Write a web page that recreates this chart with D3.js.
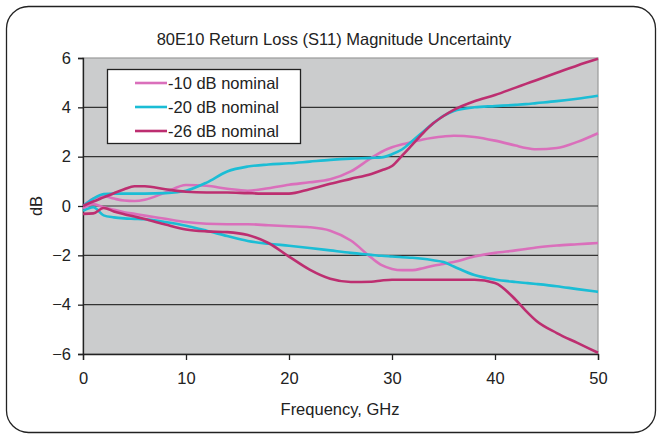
<!DOCTYPE html>
<html>
<head>
<meta charset="utf-8">
<script src="https://cdn.jsdelivr.net/npm/d3@7"></script>
<style>
  body { margin: 0; background: #fff; }
  svg text { font-family: "Liberation Sans", Arial, sans-serif; fill: #222; }
</style>
</head>
<body>
<svg id="chart" width="662" height="439"></svg>
<script>
// frequency points (GHz) shared by all curves
const freq = [0,1,2,3,4,5,6,8,10,12,14,16,18,20,22,24,26,28,29,30,31,32,33,34,35,36,38,40,42,43,44,46,48,50];

// -10 dB nominal, upper / lower bound (dB)
const tenUpper = [0,0.3,0.4,0.3,0.22,0.2,0.25,0.55,0.85,0.82,0.7,0.62,0.72,0.86,0.96,1.08,1.4,1.95,2.2,2.38,2.5,2.6,2.7,2.77,2.82,2.85,2.8,2.65,2.45,2.35,2.3,2.35,2.6,2.95];
const tenLower = [-0.1,0.08,-0.05,-0.15,-0.25,-0.32,-0.39,-0.52,-0.65,-0.72,-0.74,-0.74,-0.78,-0.82,-0.86,-1.0,-1.4,-2.1,-2.4,-2.55,-2.6,-2.6,-2.52,-2.42,-2.35,-2.27,-2.05,-1.9,-1.8,-1.74,-1.68,-1.6,-1.55,-1.5];

// -20 dB nominal
const twentyUpper = [0,0.3,0.48,0.5,0.5,0.5,0.5,0.52,0.62,0.95,1.4,1.6,1.68,1.73,1.8,1.87,1.92,1.95,1.97,2.1,2.3,2.65,3.0,3.35,3.65,3.85,4.0,4.05,4.1,4.13,4.17,4.25,4.35,4.47];
const twentyLower = [-0.2,-0.05,-0.38,-0.46,-0.5,-0.52,-0.54,-0.65,-0.8,-1.0,-1.22,-1.42,-1.53,-1.61,-1.7,-1.8,-1.9,-1.98,-2.02,-2.05,-2.08,-2.1,-2.14,-2.2,-2.27,-2.45,-2.8,-2.98,-3.08,-3.12,-3.16,-3.25,-3.37,-3.48];

// -26 dB nominal
const twentySixUpper = [0,0.18,0.35,0.52,0.68,0.8,0.8,0.68,0.58,0.55,0.55,0.52,0.5,0.5,0.68,0.9,1.1,1.3,1.45,1.62,2.05,2.5,2.95,3.35,3.65,3.9,4.25,4.5,4.8,4.95,5.1,5.4,5.7,5.97];
const twentySixLower = [-0.32,-0.3,-0.08,-0.22,-0.33,-0.43,-0.53,-0.75,-0.95,-1.03,-1.06,-1.18,-1.5,-2.05,-2.58,-2.95,-3.08,-3.07,-3.02,-2.99,-2.99,-2.99,-2.99,-2.99,-2.99,-2.99,-2.99,-3.12,-3.8,-4.25,-4.65,-5.15,-5.55,-5.95];

const seriesNames = ["-10 dB nominal", "-20 dB nominal", "-26 dB nominal"];
const seriesColors = ["#da6fbb", "#1bbdd5", "#bd2e70"];
const seriesData = [[tenUpper, tenLower], [twentyUpper, twentyLower], [twentySixUpper, twentySixLower]];

const xTicks = [0, 10, 20, 30, 40, 50];
const yTicks = [-6, -4, -2, 0, 2, 4, 6];

const fontSize = "16.5px";

const svg = d3.select("#chart");

// rounded frame around whole chart
svg.append("rect")
  .attr("x", 6.5).attr("y", 6.5)
  .attr("width", 649).attr("height", 426)
  .attr("rx", 22).attr("ry", 22)
  .attr("fill", "#fff")
  .attr("stroke", "#222")
  .attr("stroke-width", 1.3);

const plotLeft = 83, plotRight = 598, plotTop = 58, plotBottom = 354;

const x = d3.scaleLinear().domain([0, 50]).range([plotLeft, plotRight]);
const y = d3.scaleLinear().domain([-6, 6]).range([plotBottom, plotTop]);

// plot area
svg.append("rect")
  .attr("x", plotLeft).attr("y", plotTop)
  .attr("width", plotRight - plotLeft).attr("height", plotBottom - plotTop)
  .attr("fill", "#cbcccd")
  .attr("stroke", "#9a9a9a")
  .attr("stroke-width", 1.2);

// gridlines
svg.append("g")
  .selectAll("line")
  .data(yTicks.filter(d => d > -6 && d < 6))
  .enter()
  .append("line")
  .attr("x1", plotLeft).attr("x2", plotRight)
  .attr("y1", d => y(d)).attr("y2", d => y(d))
  .attr("stroke", "#333")
  .attr("stroke-width", 1.2);

// axes
const xAxis = svg.append("g")
  .attr("transform", "translate(0," + plotBottom + ")")
  .call(d3.axisBottom(x).tickValues(xTicks).tickSize(6).tickPadding(12));
const yAxis = svg.append("g")
  .attr("transform", "translate(" + plotLeft + ",0)")
  .call(d3.axisLeft(y).tickValues(yTicks).tickSize(5).tickPadding(7));

[xAxis, yAxis].forEach(g => {
  g.select(".domain").attr("stroke", "#222").attr("stroke-width", 1.3);
  g.selectAll(".tick line").attr("stroke", "#222").attr("stroke-width", 1.3);
  g.selectAll(".tick text").style("font-size", fontSize).attr("fill", "#222");
});

// curves
const line = d3.line()
  .x((d, i) => x(freq[i]))
  .y(d => y(d))
  .curve(d3.curveMonotoneX);

seriesData.forEach((pair, s) => {
  pair.forEach(vals => {
    svg.append("path")
      .datum(vals)
      .attr("d", line)
      .attr("fill", "none")
      .attr("stroke", seriesColors[s])
      .attr("stroke-width", 2.6);
  });
});

// legend
const legend = svg.append("g");
legend.append("rect")
  .attr("x", 107.5).attr("y", 69.5)
  .attr("width", 193).attr("height", 74)
  .attr("fill", "#fff")
  .attr("stroke", "#222")
  .attr("stroke-width", 1.3);

seriesNames.forEach((name, i) => {
  const ly = 83 + i * 24;
  legend.append("line")
    .attr("x1", 135).attr("x2", 167)
    .attr("y1", ly).attr("y2", ly)
    .attr("stroke", seriesColors[i])
    .attr("stroke-width", 2.6);
  legend.append("text")
    .attr("x", 168).attr("y", ly + 6)
    .style("font-size", fontSize)
    .text(name);
});

// title and axis labels
svg.append("text")
  .attr("x", 334).attr("y", 45)
  .attr("text-anchor", "middle")
  .style("font-size", fontSize)
  .text("80E10 Return Loss (S11) Magnitude Uncertainty");

svg.append("text")
  .attr("x", 340).attr("y", 415)
  .attr("text-anchor", "middle")
  .style("font-size", fontSize)
  .text("Frequency, GHz");

svg.append("text")
  .attr("transform", "translate(42," + y(0) + ") rotate(-90)")
  .attr("text-anchor", "middle")
  .style("font-size", fontSize)
  .text("dB");
</script>
</body>
</html>
